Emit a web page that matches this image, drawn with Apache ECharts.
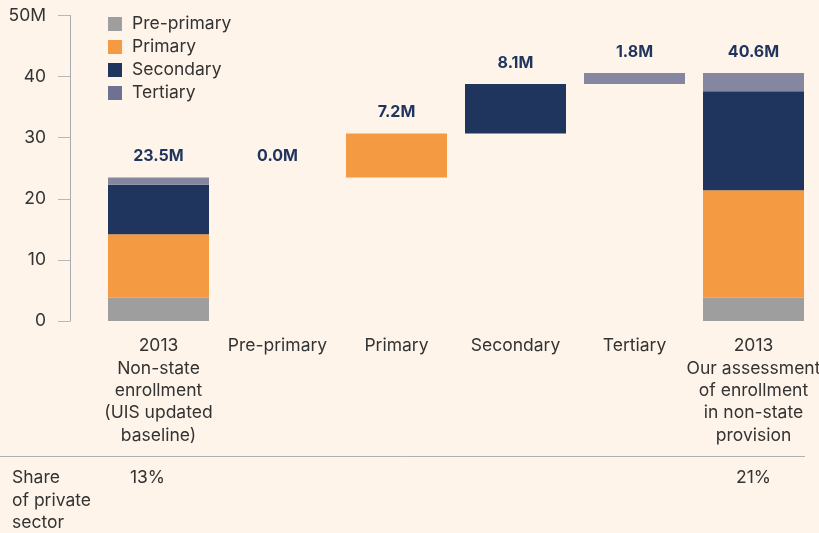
<!DOCTYPE html>
<html>
<head>
<meta charset="utf-8">
<script src="https://cdn.jsdelivr.net/npm/echarts@6/dist/echarts.min.js"></script>
<style>
html, body { margin: 0; padding: 0; background: #fef4ea; }
#chart { width: 819px; height: 533px; }
</style>
</head>
<body>
<div id="chart"></div>
<script>
var categories = [
	'2013\nNon-state\nenrollment\n(UIS updated\nbaseline)',
	'Pre-primary',
	'Primary',
	'Secondary',
	'Tertiary',
	'2013\nOur assessment\nof enrollment\nin non-state\nprovision'
];
// invisible base of the floating steps
var baseVals = ['-', 23.5, 23.5, 30.7, 38.8, '-'];
var preVals = [3.8, 0.0, '-', '-', '-', 3.8];
var primaryVals = [10.4, '-', 7.2, '-', '-', 17.6];
var secondaryVals = [8.1, '-', '-', 8.1, '-', 16.2];
var tertiaryVals = [1.2, '-', '-', '-', 1.8, 3.0];
var topLabels = [23.5, 0.0, 7.2, 8.1, 1.8, 40.6];
var shareLabels = ['13%', '', '', '', '', '21%'];
var yTicks = [0, 10, 20, 30, 40, 50];

var colors = {
	pre: '#9e9e9e',
	primary: '#f39a43',
	secondary: '#1f355e',
	tertiary: '#8586a0'
};
var font = 'Inter, "Noto Sans", sans-serif';
var fs = 17.5;

var chart = echarts.init(document.getElementById('chart'));

function stepBar(name, data, color) {
	return {
		name: name,
		type: 'bar',
		stack: 'w',
		barWidth: 101,
		itemStyle: { color: color },
		data: data
	};
}

var option = {
	backgroundColor: '#fef4ea',
	animation: false,
	textStyle: { fontFamily: font },
	grid: { left: 99, right: 6, top: 15.5, bottom: 212, containLabel: false, outerBoundsMode: 'none' },
	legend: {
		orient: 'vertical',
		left: 108,
		top: 15,
		padding: 0,
		itemWidth: 14,
		itemHeight: 14,
		itemGap: 5,
		icon: 'rect',
		textStyle: { fontFamily: font, fontSize: fs, color: '#333', padding: [0, 0, 0, 5] },
		data: [
			{ name: 'Pre-primary' },
			{ name: 'Primary' },
			{ name: 'Secondary' },
			{ name: 'Tertiary', itemStyle: { color: '#6f7192' } }
		]
	},
	xAxis: {
		type: 'category',
		data: categories,
		axisLine: { show: false },
		axisTick: { show: false },
		axisLabel: {
			interval: 0,
			margin: 14,
			fontFamily: font,
			fontSize: fs,
			lineHeight: 22.3,
			color: '#333'
		}
	},
	yAxis: {
		type: 'value',
		min: yTicks[0],
		max: yTicks[yTicks.length - 1],
		interval: 10,
		offset: 29,
		splitLine: { show: false },
		axisLine: { show: true, lineStyle: { color: '#a9a9b0', width: 1 } },
		axisTick: { show: true, length: 12, lineStyle: { color: '#b8b8bc' } },
		axisLabel: {
			margin: 24,
			fontFamily: font,
			fontSize: fs,
			color: '#333',
			formatter: function (v) { return v === 50 ? '50M' : String(v); }
		}
	},
	series: [
		{
			name: 'base',
			type: 'bar',
			stack: 'w',
			barWidth: 101,
			itemStyle: { color: 'rgba(0,0,0,0)' },
			data: baseVals
		},
		stepBar('Pre-primary', preVals, colors.pre),
		stepBar('Primary', primaryVals, colors.primary),
		stepBar('Secondary', secondaryVals, colors.secondary),
		stepBar('Tertiary', tertiaryVals, colors.tertiary),
		{
			name: 'labels',
			type: 'bar',
			stack: 'w',
			barWidth: 101,
			itemStyle: { color: 'rgba(0,0,0,0)' },
			label: {
				show: true,
				position: 'top',
				distance: 13,
				fontFamily: font,
				fontSize: 16,
				fontWeight: 'bold',
				color: '#1f355e',
				formatter: function (p) { return topLabels[p.dataIndex].toFixed(1) + 'M'; }
			},
			data: topLabels.map(function () { return 0; })
		}
	]
};
chart.setOption(option);

// bottom strip: rule, row title and shares placed on the category scale
var graphics = [{
	type: 'line',
	shape: { x1: 0, y1: 456.5, x2: 805, y2: 456.5 },
	style: { stroke: '#b0b0b0', lineWidth: 1 }
}, {
	type: 'text',
	x: 12,
	y: 467,
	style: {
		text: 'Share\nof private\nsector',
		font: fs + 'px ' + font,
		lineHeight: 22.3,
		fill: '#333'
	}
}];
shareLabels.forEach(function (s, i) {
	if (!s) return;
	var px = chart.convertToPixel({ xAxisIndex: 0 }, i);
	graphics.push({
		type: 'text',
		x: i === 0 ? px - 11 : px,
		y: 469,
		style: { text: s, font: fs + 'px ' + font, fill: '#333', align: 'center' }
	});
});
chart.setOption({ graphic: graphics });
window.onresize = chart.resize;
</script>
</body>
</html>
